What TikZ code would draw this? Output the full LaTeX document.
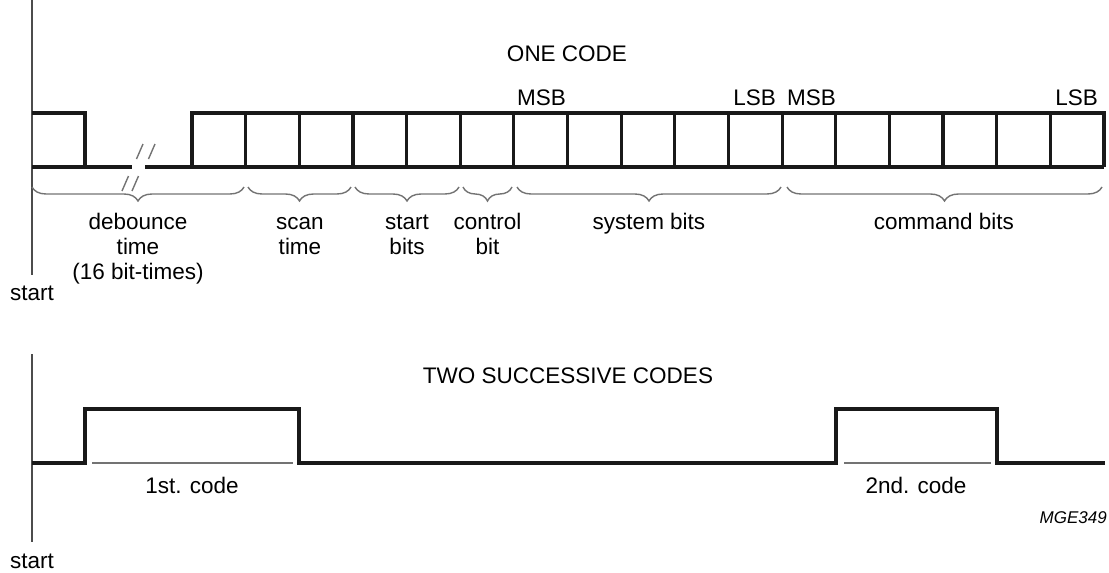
\documentclass[tikz,border=0pt]{standalone}
\usepackage{fontspec}
\setmainfont{Liberation Sans}
\usetikzlibrary{decorations.pathreplacing}
\begin{document}
\begin{tikzpicture}[x=1pt,y=-1pt,
  wave/.style={line width=3.2pt,line cap=butt,line join=miter,black!90},
  axisline/.style={line width=1.4pt,black!70},
  thin gray/.style={line width=1.4pt,black!55},
  bracedeco/.style={thin gray,decorate,decoration={brace,mirror,amplitude=14pt}},
  txt/.style={inner sep=0pt,font=\fontsize{22.5}{25}\selectfont},
  lbl/.style={txt,align=center,anchor=north},
  small/.style={inner sep=0pt,font=\fontsize{17}{20}\selectfont\itshape}]
\useasboundingbox (0,0) rectangle (1109,573);
% ---------------- ONE CODE ----------------
\draw[axisline] (32,0) -- (32,275);
\node[txt,anchor=base west] (start1) at (10,300) {start};
\node[txt,anchor=base] (onecode) at (567,61) {ONE CODE};
% first pulse and low line
\draw[wave] (32,113) -- (85,113) -- (85,167);
\draw[wave] (32,167) -- (132,167);
\draw[wave] (145,167) -- (1104,167);
% break marks
\draw[thin gray] (122,191) -- (128.5,176) (136.5,159) -- (143,144);
\draw[thin gray] (132,191) -- (138.5,176) (148.5,159) -- (155,144);
% bit frame
\draw[wave] (192,167) -- (192,113) -- (1104,113) -- (1104,167);
\foreach \i in {1,...,16}{
  \draw[wave] ({192+\i*53.647},113) -- ({192+\i*53.647},167);
}
% MSB / LSB
\node[txt,anchor=base west] (msb1) at (517,105) {MSB};
\node[txt,anchor=base east] (lsb1) at (776,105) {LSB};
\node[txt,anchor=base west] (msb2) at (787,105) {MSB};
\node[txt,anchor=base east] (lsb2) at (1098,105) {LSB};
% braces
\draw[bracedeco] (32,187) -- (244,187);
\draw[bracedeco] (248,187) -- (351,187);
\draw[bracedeco] (355,187) -- (459,187);
\draw[bracedeco] (463,187) -- (512,187);
\draw[bracedeco] (517,187) -- (781,187);
\draw[bracedeco] (787,187) -- (1102,187);
% labels
\node[lbl] (deb) at (138,211.5) {\strut debounce\\time\\(16 bit-times)};
\node[lbl] (scan) at (300,211.5) {\strut scan\\time};
\node[lbl] (startb) at (407,211.5) {\strut start\\bits};
\node[lbl] (ctrl) at (487.5,211.5) {\strut control\\bit};
\node[lbl] (sys) at (649,211.5) {\strut system bits};
\node[lbl] (cmd) at (944,211.5) {\strut command bits};
% ---------------- TWO SUCCESSIVE CODES ----------------
\draw[axisline] (32,354) -- (32,542);
\node[txt,anchor=base west] (start2) at (10,568) {start};
\node[txt,anchor=base] (twocodes) at (568,383) {TWO SUCCESSIVE CODES};
\draw[wave] (32,463) -- (85,463) -- (85,409) -- (299,409) -- (299,463)
  -- (836,463) -- (836,409) -- (997,409) -- (997,463) -- (1105,463);
\draw[thin gray] (92,463) -- (293,463);
\draw[thin gray] (844,463) -- (991,463);
\node[txt,anchor=base] (c1) at (192,493) {1st. code};
\node[txt,anchor=base] (c2) at (916,493) {2nd. code};
\node[small,anchor=base east] (mge) at (1107,523) {MGE349};
\end{tikzpicture}
\end{document}
